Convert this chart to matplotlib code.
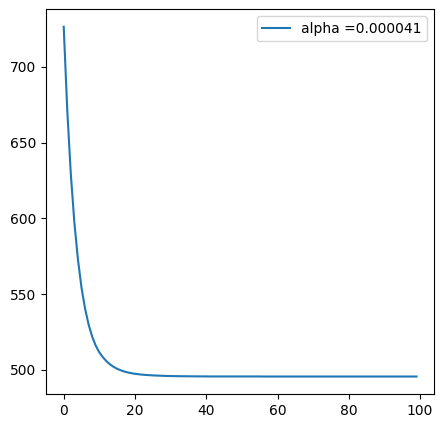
import matplotlib
matplotlib.use("Agg")
import matplotlib.pyplot as plt

# cost per iteration
iterations = list(range(100))
cost = [726.5, 671.2, 629.0, 597.0, 572.7, 554.2, 540.3, 529.8, 521.9, 515.9,
        511.5, 508.3, 505.7, 503.6, 502.0, 500.7, 499.7, 498.9, 498.3, 497.8,
        497.4, 497.1, 496.85, 496.65, 496.5, 496.35, 496.25, 496.15, 496.05, 495.98,
        495.92, 495.87, 495.83, 495.8, 495.77, 495.75, 495.73, 495.71, 495.7, 495.69,
        495.68] + [495.65] * 15 + [495.6] * 44

alpha_label = "alpha =0.000041"

fig = plt.figure(figsize=(4.43, 4.28), dpi=100)
ax = fig.add_axes([0.104, 0.0794, 0.876, 0.899])
ax.plot(iterations, cost, label=alpha_label)
ax.legend()
fig.savefig("out.png", dpi=100)
